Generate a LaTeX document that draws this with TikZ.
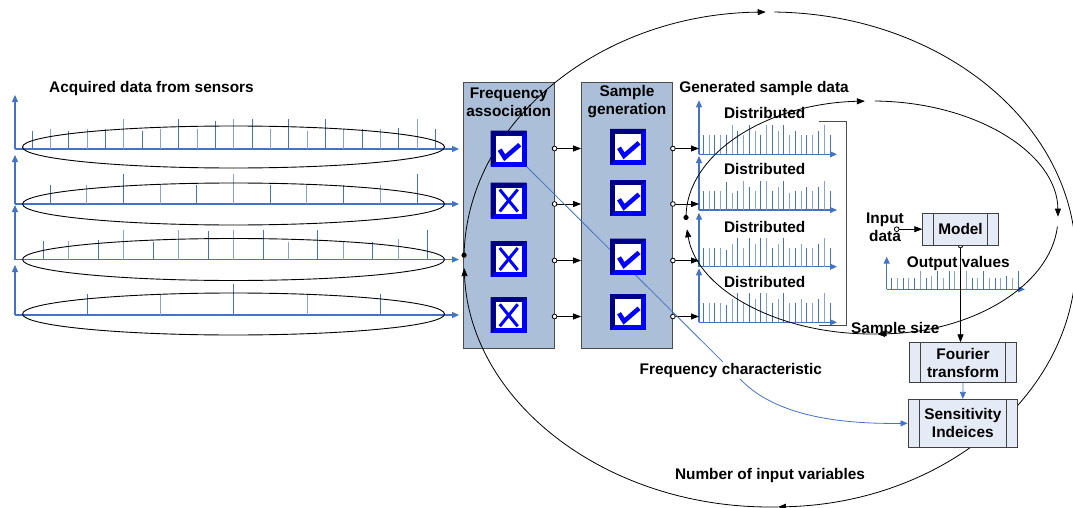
\documentclass[tikz,border=0pt]{standalone}
\usepackage{fontspec}
\setmainfont{Liberation Sans}
\usetikzlibrary{arrows.meta}

\definecolor{axisBlue}{RGB}{68,114,196}
\definecolor{stageFill}{RGB}{172,191,216}
\definecolor{procFill}{RGB}{229,235,246}
\definecolor{boxNavy}{RGB}{0,0,128}
\definecolor{boxBlue}{RGB}{0,0,255}

\pgfdeclarelayer{back}
\pgfdeclarelayer{front}
\pgfsetlayers{back,main,front}

% bevelled frame of a selection box
\newcommand{\selframe}{%
  \fill[boxNavy] ([shift={(-18pt,-18pt)}]path picture bounding box.center)
    -- ++(0pt,36pt) -- ++(36pt,0pt) -- ++(-5pt,-5pt) -- ++(-26pt,0pt) -- ++(0pt,-26pt) -- cycle;
  \fill[white] ([shift={(-13pt,-13pt)}]path picture bounding box.center) rectangle ++(26pt,26pt);}

\tikzset{
  lbl/.style={font=\fontsize{15.4}{18}\selectfont\bfseries, inner sep=0pt, align=center},
  axisarrow/.style={axisBlue, line width=1.2pt, -{Triangle[length=7pt,width=6pt]}},
  spike/.style={axisBlue, line width=1pt},
  ring/.style={black, line width=0.9pt},
  loopline/.style={black, line width=0.8pt, -{Triangle[length=8pt,width=6pt]}},
  link/.style={black, line width=0.8pt, {Circle[length=5.5pt,fill=white]}-{Triangle[length=8pt,width=6pt]}, shorten <=-2.75pt},
  bluelink/.style={axisBlue, line width=0.8pt, -{Triangle[length=7pt,width=6pt]}},
  stage/.style={draw=black!70, fill=stageFill, line width=0.8pt, minimum width=91pt, minimum height=266pt},
  markbox/.style={minimum size=36pt, inner sep=0pt, fill=boxBlue},
  tickbox/.style={markbox, path picture={\selframe
    \draw[boxBlue, line width=4.5pt] ([shift={(-9pt,-1pt)}]path picture bounding box.center) -- ++(5pt,-8pt) -- ++(15pt,13pt);}},
  crossbox/.style={markbox, path picture={\selframe
    \draw[boxBlue, line width=3pt] ([shift={(-9pt,-11pt)}]path picture bounding box.center) -- ++(18pt,22pt)
      ([shift={(-9pt,11pt)}]path picture bounding box.center) -- ++(18pt,-22pt);}},
  procbox/.style={lbl, draw=black!75, fill=procFill, line width=0.8pt,
    path picture={\draw[black!75, line width=0.8pt]
      ([xshift=11pt]path picture bounding box.north west) -- ([xshift=11pt]path picture bounding box.south west)
      ([xshift=-11pt]path picture bounding box.north east) -- ([xshift=-11pt]path picture bounding box.south east);}}
}

\begin{document}
\begin{tikzpicture}[x=1pt, y=-1pt]
\useasboundingbox (0,0) rectangle (1073,508);

\begin{pgfonlayer}{back}
  \fill[white] (0,0) rectangle (1073,508);

  % sensor records
  \foreach \y/\t in {149/95, 204/155, 259.5/205, 315/265} {
    \draw[axisarrow] (15,\y) -- (15,\t);
    \draw[axisarrow] (15,\y) -- (459,\y);
  }
  \foreach \h [count=\i from 0, evaluate=\i as \c using {int(100-35*mod(\i,2))}] in
      {18,20,18,20,20,30,18,20,30,20,28,30,30,20,30,18,30,20,20,20,21,30,20}
    \draw[spike, axisBlue!\c] ({32.3+18.33*\i},149) -- ++(0,-\h);
  \foreach \h [count=\i from 0, evaluate=\i as \c using {int(100-35*mod(\i,2))}] in
      {19,19,30,19,19,30,19,19,19,19,30}
    \draw[spike, axisBlue!\c] ({50.3+36.67*\i},204) -- ++(0,-\h);
  \foreach \x/\h [count=\i from 0, evaluate=\i as \c using {int(100-35*mod(\i,2))}] in
      {43.3/18.7, 68.7/18.7, 98/19.3, 123.7/29.7, 153/17.7, 178.7/29.7, 208/28.3, 233.7/29.7,
       263/29.7, 288.7/17.7, 317.7/29.7, 343.7/18.7, 372.7/17.7, 398.7/20.3, 427.7/29.7}
    \draw[spike, axisBlue!\c] (\x,259.5) -- ++(0,-\h);
  \foreach \x/\h [count=\i from 0, evaluate=\i as \c using {int(100-35*mod(\i,2))}] in
      {87/20.7, 160.3/20.7, 233.7/30.7, 307/20.7, 380.3/20.7}
    \draw[spike, axisBlue!\c] (\x,315) -- ++(0,-\h);
  \foreach \y in {147, 204, 259.5, 314}
    \draw[ring] (233.5,\y) ellipse[x radius=211pt, y radius=21pt];

  % generated samples
  \foreach \y/\hs in {154.3/{19,19,19,19,19,29,23,19,29,23,19,29,29,23,29,19,23,19,19,19,23,29,19},
                      210/{19,19,19,19,28,17,19,29,23,19,29,29,19,23,29,17,19,19,23,19,23,29,19},
                      266.7/{19,19,19,19,17,23,29,19,29,23,29,29,19,23,29,19,19,23,19,19,23,29,19},
                      322.3/{19,19,19,19,17,23,29,19,29,23,29,29,19,23,29,19,19,23,19,19,23,29,19}} {
    \draw[axisarrow] (699,\y) -- ++(0,-54);
    \draw[axisarrow] (699,\y) -- (837,\y);
    \foreach \h [count=\i from 0, evaluate=\i as \c using {int(100-35*mod(\i,2))}] in \hs
      \draw[spike, axisBlue!\c] ({703.3+5.76*\i},\y) -- ++(0,-\h);
  }

  % model output
  \draw[axisarrow] (886.7,289.3) -- (886.7,256.7);
  \draw[axisarrow] (886.7,289.3) -- (1025,289.3);
  \foreach \h [count=\i from 0, evaluate=\i as \c using {int(100-35*mod(\i,2))}] in
      {11,11,11,11,11,18,11,13,18,11,18,18,13,18,11,11,18,11,11,11,13,11,18}
    \draw[spike, axisBlue!\c] ({891.7+5.75*\i},289.3) -- ++(0,-\h);

  \node[stage] (fa) at (508.7,215.5) {};
  \node[stage] (sg) at (627,215.5) {};
\end{pgfonlayer}

\begin{pgfonlayer}{front}
  \node[tickbox]  (fa1) at (508.7,148.7) {};
  \node[crossbox] (fa2) at (508.7,200.5) {};
  \node[crossbox] (fa3) at (508.7,259) {};
  \node[crossbox] (fa4) at (508.7,315.3) {};
  \foreach \y [count=\k] in {146.8, 198.3, 256.5, 312.3}
    \node[tickbox] (sg\k) at (628,\y) {};

  \node[procbox, minimum width=75.6pt, minimum height=31.7pt] (model) at (960.5,229.2) {Model};
  \node[procbox, minimum width=107.4pt, minimum height=40pt] (fourier) at (963,362.7) {Fourier\\transform};
  \node[procbox, minimum width=109.7pt, minimum height=48pt] (sens) at (962.8,423.3) {Sensitivity\\Indeices};
  \node[lbl, fill=white, inner sep=1.5pt] (fchar) at (730.8,370.7) {Frequency characteristic};
\end{pgfonlayer}

\node[lbl] (acq) at (151.5,89) {Acquired data from sensors};
\node[lbl] (fa-title) at (508.7,102) {Frequency\\association};
\node[lbl] (sg-title) at (627,102) {Sample\\generation};
\node[lbl] (gen) at (764,89) {Generated sample data};
\foreach \y [count=\k] in {112.7, 169, 226.7, 281.7}
  \node[lbl] (dist\k) at (764.7,\y) {Distributed};
\node[lbl] (indata) at (885,227.5) {Input\\data};
\node[lbl] (outv) at (958.3,263.3) {Output values};
\node[lbl, anchor=west] (ssize) at (851,329.5) {Sample size};
\node[lbl] (nvar) at (770,476) {Number of input variables};

% stage links
\coordinate (gs) at (699,154.3);
\foreach \y [count=\k] in {148.5, 204, 260.5, 316.5} {
  \coordinate (lv\k) at (0,\y);
  \draw[link] (fa.east |- lv\k) -- (sg.west |- lv\k);
  \draw[link] (sg.east |- lv\k) -- (gs |- lv\k);
}
\coordinate (indot) at (896.7,229.2);
\draw[link] (indot) -- (model.west);
\draw[link] (model.south) -- (model.south |- fourier.north);
\draw[bluelink] (fourier.south) -- (sens.north);
\draw[bluelink] (fa1.south east) -- (742,381) .. controls (780,419) and (850,424) .. (sens.west);

% sample size bracket
\draw[black!70, line width=0.8pt] (819,121) -| (846.7,325) -- (819,325);

% iteration loops
\coordinate (outer) at (770,259.5);
\coordinate (inner) at (872,217.5);
\foreach \a/\b in {-181/-269.2, -270.8/-448.5, -448.5/-538}
  \draw[loopline] (outer) ++(\a:306pt and 247.5pt) arc[start angle=\a, end angle=\b, x radius=306pt, y radius=247.5pt];
\fill (outer) ++(-181:306pt and 247.5pt) circle[radius=2.6pt];
\foreach \a/\b in {-180/-267.8, -270.9/-359.6, -364.5/-448.5, -448.5/-534.2}
  \draw[loopline] (inner) ++(\a:186pt and 116.5pt) arc[start angle=\a, end angle=\b, x radius=186pt, y radius=116.5pt];
\fill (inner) ++(-180:186pt and 116.5pt) circle[radius=2.6pt];
\end{tikzpicture}
\end{document}
